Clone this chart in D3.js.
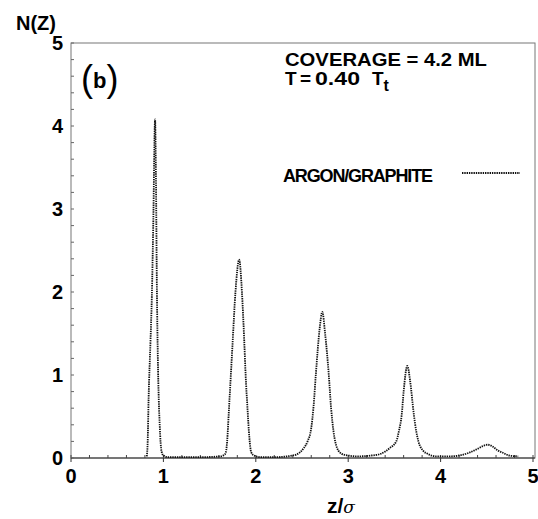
<!DOCTYPE html>
<html>
<head>
<meta charset="utf-8">
<script src="https://cdn.jsdelivr.net/npm/d3@7"></script>
<style>
  body { margin: 0; background: #fff; }
  text { font-family: "Liberation Sans", Arial, sans-serif; fill: #000; }
</style>
</head>
<body>
<div id="root"></div>
<script>
const width = 538;
const height = 519;

// z/sigma positions and density N(Z)
const zValues = [0.82, 0.83, 0.84, 0.86, 0.875, 0.89, 0.91, 0.92, 0.93, 0.94, 0.95, 0.96, 0.97, 0.98, 1.00, 1.05,
  1.20, 1.40, 1.62, 1.67, 1.69, 1.71, 1.73, 1.75, 1.78, 1.82, 1.85, 1.875, 1.89, 1.91, 1.93, 1.95, 1.98, 2.05,
  2.20, 2.40, 2.48, 2.52, 2.56, 2.60, 2.625, 2.65, 2.69, 2.72, 2.75, 2.79, 2.815, 2.84, 2.88, 2.93, 3.00,
  3.10, 3.25, 3.35, 3.45, 3.52, 3.55, 3.58, 3.60, 3.64, 3.67, 3.71, 3.735, 3.76, 3.81, 3.86, 3.95,
  4.10, 4.20, 4.30, 4.40, 4.47, 4.51, 4.56, 4.62, 4.68, 4.74, 4.84];
const nValues = [0.02, 0.2, 0.72, 1.4, 1.95, 2.8, 4.08, 3.3, 2.0, 1.2, 0.7, 0.4, 0.18, 0.08, 0.03, 0.01,
  0.01, 0.01, 0.02, 0.05, 0.2, 0.6, 1.0, 1.41, 2.0, 2.39, 2.0, 1.41, 1.0, 0.6, 0.25, 0.07, 0.03, 0.01,
  0.01, 0.03, 0.07, 0.12, 0.2, 0.36, 0.62, 1.01, 1.55, 1.76, 1.5, 1.0, 0.6, 0.33, 0.12, 0.05, 0.03,
  0.02, 0.03, 0.05, 0.12, 0.2, 0.33, 0.53, 0.8, 1.11, 0.93, 0.53, 0.33, 0.2, 0.09, 0.05, 0.02,
  0.02, 0.03, 0.06, 0.11, 0.15, 0.16, 0.14, 0.09, 0.06, 0.03, 0.02];

const xTicks = [0, 1, 2, 3, 4, 5];
const yTicks = [0, 1, 2, 3, 4, 5];

const data = zValues.map((z, i) => ({ z: z, n: nValues[i] }));

const x = d3.scaleLinear().domain([0, 5]).range([71, 533]);
const y = d3.scaleLinear().domain([0, 5]).range([458, 43]);

const svg = d3.select("#root").append("svg")
    .attr("width", width)
    .attr("height", height);

// frame
svg.append("rect")
    .attr("x", x(0)).attr("y", y(5))
    .attr("width", x(5) - x(0) + 2).attr("height", y(0) - y(5))
    .attr("fill", "none")
    .attr("stroke", "#777")
    .attr("stroke-width", 1);

svg.append("line")
    .attr("x1", x(0)).attr("x2", x(5) + 2)
    .attr("y1", y(0)).attr("y2", y(0))
    .attr("stroke", "#333");

// minor ticks
const minor = d3.range(0, 5.01, 0.2);
svg.append("g").selectAll("line").data(minor).enter().append("line")
    .attr("x1", d => x(d)).attr("x2", d => x(d))
    .attr("y1", y(0)).attr("y2", y(0) - 3)
    .attr("stroke", "#444");
svg.append("g").selectAll("line").data(minor).enter().append("line")
    .attr("x1", x(0)).attr("x2", x(0) + 3)
    .attr("y1", d => y(d)).attr("y2", d => y(d))
    .attr("stroke", "#666");

// major ticks
svg.append("g").selectAll("line").data(xTicks).enter().append("line")
    .attr("x1", d => x(d)).attr("x2", d => x(d))
    .attr("y1", y(0)).attr("y2", y(0) + 4)
    .attr("stroke", "#333");

svg.append("g").selectAll("text").data(xTicks).enter().append("text")
    .attr("x", d => x(d))
    .attr("y", 483)
    .attr("text-anchor", "middle")
    .attr("font-size", 20)
    .attr("font-weight", "bold")
    .text(d => d);

svg.append("g").selectAll("text").data(yTicks).enter().append("text")
    .attr("x", 63)
    .attr("y", d => y(d) + 7)
    .attr("text-anchor", "end")
    .attr("font-size", 20)
    .attr("font-weight", "bold")
    .text(d => d);

// axis titles
svg.append("text")
    .attr("x", 16).attr("y", 30)
    .attr("font-size", 20)
    .attr("font-weight", "bold")
    .text("N(Z)");

const xt = svg.append("text")
    .attr("x", 341).attr("y", 513)
    .attr("text-anchor", "middle");
xt.append("tspan").attr("font-size", 21).attr("font-weight", "bold").text("z/");
xt.append("tspan").attr("font-size", 17).attr("font-style", "italic")
    .attr("font-family", "DejaVu Serif, serif").text("σ");

// panel label
const pl = svg.append("text").attr("x", 81).attr("y", 91);
pl.append("tspan").attr("font-size", 36).text("(");
pl.append("tspan").attr("font-size", 22).attr("font-weight", "bold").attr("dy", -3).text("b");
pl.append("tspan").attr("font-size", 36).attr("dy", 3).text(")");

// annotations
svg.append("text")
    .attr("x", 285).attr("y", 66)
    .attr("font-size", 19)
    .attr("font-weight", "bold")
    .attr("textLength", 202)
    .attr("lengthAdjust", "spacingAndGlyphs")
    .text("COVERAGE = 4.2 ML");

const t2 = svg.append("text").attr("y", 85).attr("font-size", 19).attr("font-weight", "bold");
t2.append("tspan").attr("x", 285).text("T");
t2.append("tspan").attr("x", 300).text("=");
t2.append("tspan").attr("x", 315).attr("textLength", 45)
    .attr("lengthAdjust", "spacingAndGlyphs").text("0.40");
t2.append("tspan").attr("x", 372).text("T");
t2.append("tspan").attr("font-size", 16).attr("dy", 6).text("t");

svg.append("text")
    .attr("x", 283).attr("y", 182)
    .attr("font-size", 18)
    .attr("font-weight", "bold")
    .attr("font-family", "Liberation Sans Narrow, sans-serif")
    .attr("textLength", 150)
    .text("ARGON/GRAPHITE");

const lineStyle = (sel) => sel
    .attr("fill", "none")
    .attr("stroke", "#111")
    .attr("stroke-width", 1.8)
    .attr("stroke-dasharray", "1.4 0.9");

svg.append("line")
    .attr("x1", 462).attr("x2", 520)
    .attr("y1", 173).attr("y2", 173)
    .call(lineStyle);

const line = d3.line()
    .x(d => x(d.z))
    .y(d => y(d.n))
    .curve(d3.curveMonotoneX);

svg.append("path")
    .datum(data)
    .attr("d", line)
    .call(lineStyle);
</script>
</body>
</html>
